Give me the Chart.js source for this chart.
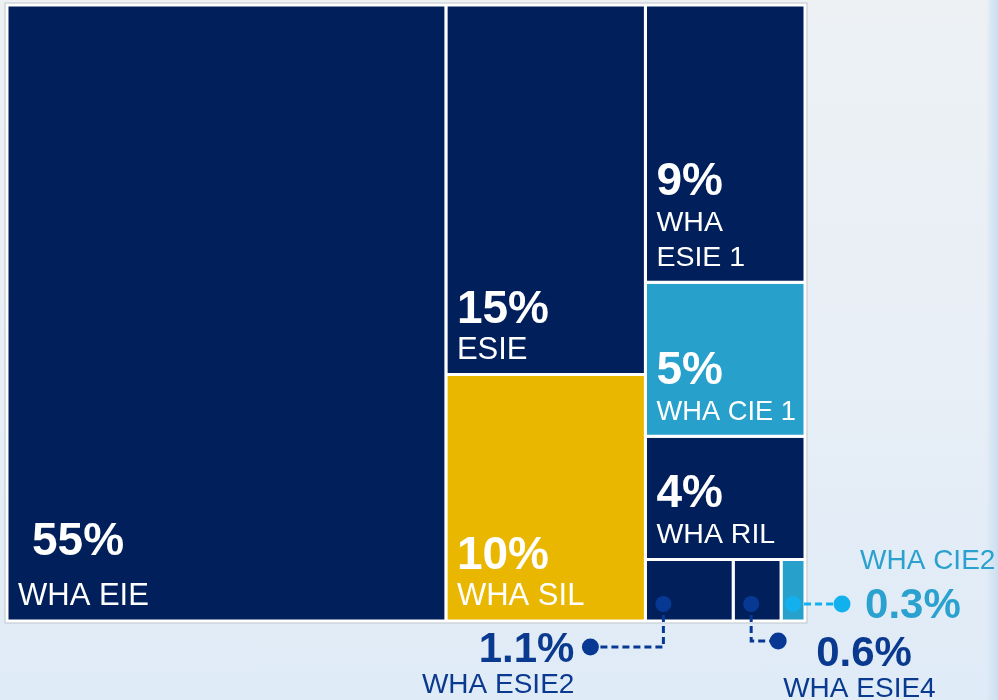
<!DOCTYPE html>
<html>
<head>
<meta charset="utf-8">
<script src="https://cdn.jsdelivr.net/npm/chart.js@4.4.0/dist/chart.umd.min.js"></script>
<style>
html, body { margin: 0; padding: 0; }
body {
    width: 998px;
    height: 700px;
    overflow: hidden;
    background:
        linear-gradient(to right, rgba(214, 228, 242, 0) 986px, #d6e5f3 992px, #cbdff1 998px),
        linear-gradient(to bottom, #edf1f4 0%, #e9eff6 45%, #dfebf7 100%);
}
#caixa { position: relative; width: 998px; height: 700px; }
</style>
</head>
<body>
<div id="caixa"><canvas id="grafico"></canvas></div>
<script>
const grafico_treemap = document.getElementById('grafico');

const rotulos = ['WHA EIE', 'ESIE', 'WHA SIL', ['WHA', 'ESIE 1'], 'WHA CIE 1', 'WHA RIL', 'WHA ESIE2', 'WHA ESIE4', 'WHA CIE2'];
const valores = [55, 15, 10, 9, 5, 4, 1.1, 0.6, 0.3];
// agrupamento do treemap: coluna e faixa dentro da coluna
const colunas = [1, 2, 2, 3, 3, 3, 3, 3, 3];
const faixas = [1, 1, 2, 1, 2, 3, 4, 4, 4];

const cores = ['#011f5b', '#011f5b', '#eab700', '#011f5b', '#27a0cc', '#011f5b', '#011f5b', '#011f5b', '#27a0cc'];

/* LAYOUT DAS CÉLULAS (unidades das escalas, 0 a 100) */

function montar_celulas() {
    const total = valores.reduce((a, b) => a + b, 0);
    const celulas = [];
    let x0 = 0;
    [...new Set(colunas)].forEach(c => {
        const idx_col = valores.map((v, i) => i).filter(i => colunas[i] === c);
        const soma_col = idx_col.reduce((s, i) => s + valores[i], 0);
        const largura = soma_col / total * 100;
        let y1 = 100;
        [...new Set(idx_col.map(i => faixas[i]))].forEach(f => {
            const idx_faixa = idx_col.filter(i => faixas[i] === f);
            const soma_faixa = idx_faixa.reduce((s, i) => s + valores[i], 0);
            const altura = soma_faixa / soma_col * 100;
            let xi = x0;
            idx_faixa.forEach(i => {
                const w = valores[i] / soma_faixa * largura;
                celulas[i] = { x0: xi, x1: xi + w, y0: y1 - altura, y1: y1 };
                xi += w;
            });
            y1 -= altura;
        });
        x0 += largura;
    });
    return celulas;
}

const celulas = montar_celulas();

const datasets = celulas.map((c, i) => ({
    label: [].concat(rotulos[i]).join(' '),
    data: [
        { x: c.x0, y: c.y0 },
        { x: c.x1, y: c.y0 },
        { x: c.x1, y: c.y1 },
        { x: c.x0, y: c.y1 },
        { x: c.x0, y: c.y0 }
    ],
    backgroundColor: cores[i],
    borderColor: '#ffffff',
    borderWidth: 3,
    borderJoinStyle: 'miter',
    borderCapStyle: 'square',
    fill: 'shape',
    tension: 0,
    pointRadius: 0,
    pointHoverRadius: 0,
    clip: false
}));

/* CHAMADAS DAS CÉLULAS PEQUENAS */

const chamadas = [
    { nome: 'WHA ESIE2', cor: '#0a3a8f', ponto: '#073994', caminho: [[0, 43], [-73, 43]], pct: [-16, 15, 'right'], rotulo: [-16, 46, 'right'] },
    { nome: 'WHA ESIE4', cor: '#0a3a8f', ponto: '#073994', caminho: [[0, 37], [27, 37]], pct: [38, 25, 'left'], rotulo: [5, 56, 'left'] },
    { nome: 'WHA CIE2', cor: '#2aa1cf', ponto: '#12b1ee', caminho: [[49, 0]], pct: [23, 14, 'left'], rotulo: [18, -35, 'left'] }
];

const fonte = '"Liberation Sans", Arial, sans-serif';

const plugin_textos = {
    id: 'textos',
    afterDatasetsDraw(chart) {
        const { ctx, chartArea: a, scales: { x, y } } = chart;
        ctx.save();

        // contorno cinza
        ctx.strokeStyle = '#c4c8cc';
        ctx.lineWidth = 1;
        ctx.strokeRect(a.left - 2, a.top - 2, a.right - a.left + 4, a.bottom - a.top + 4);

        ctx.textBaseline = 'alphabetic';
        celulas.forEach((c, i) => {
            const esq = x.getPixelForValue(c.x0);
            const dir = x.getPixelForValue(c.x1);
            const topo = y.getPixelForValue(c.y1);
            const base = y.getPixelForValue(c.y0);
            if (base - topo < 100) return;
            const linhas = [].concat(rotulos[i]);
            const w = dir - esq;
            const grande = w > 300;
            ctx.fillStyle = '#ffffff';
            ctx.textAlign = 'left';

            // tamanho do rótulo: ajusta à largura da célula
            let tam = w > 180 ? 31 : 28.5;
            ctx.font = tam + 'px ' + fonte;
            const maior = Math.max(...linhas.map(t => ctx.measureText(t).width));
            if (maior > w - 20) tam = tam * (w - 20) / maior;
            ctx.font = tam + 'px ' + fonte;

            const yb = base - 16 - (linhas.length - 1) * 35;
            linhas.forEach((t, k) => ctx.fillText(t, esq + 11, yb + k * 35));
            ctx.font = 'bold 46px ' + fonte;
            ctx.fillText(valores[i] + '%', esq + (grande ? 25 : 11), yb - (grande ? 50 : 36));
        });

        chamadas.forEach(ch => {
            const i = rotulos.findIndex(r => [].concat(r).join(' ') === ch.nome);
            const c = celulas[i];
            const esq = x.getPixelForValue(c.x0);
            const dir = x.getPixelForValue(c.x1);
            const base = y.getPixelForValue(c.y0);
            const px = Math.min((esq + dir) / 2, esq + 18);
            const py = base - 17;

            ctx.strokeStyle = ch.ponto;
            ctx.lineWidth = 3;
            ctx.setLineDash([7, 4]);
            ctx.beginPath();
            ctx.moveTo(px, py);
            ch.caminho.forEach(p => ctx.lineTo(px + p[0], py + p[1]));
            ctx.stroke();
            ctx.setLineDash([]);

            const fim = ch.caminho[ch.caminho.length - 1];
            const fx = px + fim[0];
            const fy = py + fim[1];
            ctx.fillStyle = ch.ponto;
            ctx.beginPath();
            ctx.arc(px, py, 8, 0, Math.PI * 2);
            ctx.fill();
            ctx.beginPath();
            ctx.arc(fx, fy, 8.5, 0, Math.PI * 2);
            ctx.fill();

            ctx.fillStyle = ch.cor;
            ctx.font = 'bold 42px ' + fonte;
            ctx.textAlign = ch.pct[2];
            ctx.fillText(valores[i] + '%', fx + ch.pct[0], fy + ch.pct[1]);
            ctx.font = '28px ' + fonte;
            ctx.textAlign = ch.rotulo[2];
            ctx.fillText(ch.nome, fx + ch.rotulo[0], fy + ch.rotulo[1]);
        });

        ctx.restore();
    }
};

const config_treemap = {
    type: 'line',
    data: { datasets: datasets },
    options: {
        responsive: true,
        maintainAspectRatio: false,
        animation: false,
        events: [],
        layout: {
            padding: { left: 7, top: 5, right: 193, bottom: 79 }
        },
        scales: {
            x: { type: 'linear', min: 0, max: 100, display: false },
            y: { type: 'linear', min: 0, max: 100, display: false }
        },
        plugins: {
            legend: { display: false },
            tooltip: { enabled: false },
            title: { display: false }
        }
    },
    plugins: [plugin_textos]
};

const grafico = new Chart(grafico_treemap, config_treemap);
</script>
</body>
</html>
